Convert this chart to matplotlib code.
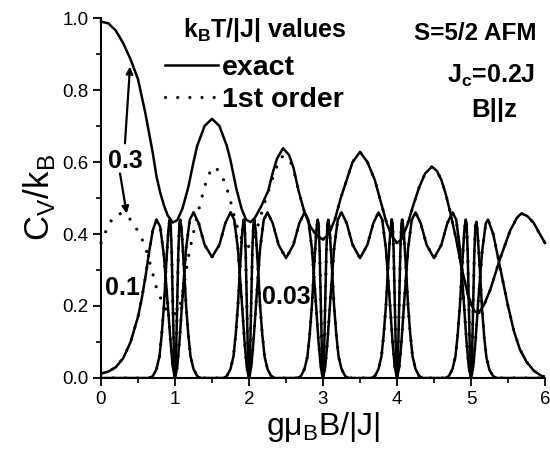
import matplotlib
matplotlib.use('Agg')
import matplotlib.pyplot as plt
from matplotlib.lines import Line2D

plt.rcParams['font.family'] = ['Liberation Sans', 'DejaVu Sans']
plt.rcParams['mathtext.fontset'] = 'custom'
plt.rcParams['mathtext.rm'] = 'Liberation Sans'
plt.rcParams['mathtext.bf'] = 'Liberation Sans:bold'

# kT/|J| = 0.3, exact
x03 = [0.00, 0.10, 0.20, 0.30, 0.40, 0.50, 0.60, 0.70, 0.75, 0.80, 0.85, 0.90, 0.97,
       1.03, 1.10, 1.18, 1.25, 1.30, 1.40, 1.50, 1.60, 1.70, 1.75, 1.83, 1.90, 1.96, 2.02,
       2.08, 2.16, 2.26, 2.32, 2.38, 2.46, 2.54, 2.60, 2.67, 2.75, 2.83, 2.92, 3.00,
       3.08, 3.16, 3.24, 3.32, 3.40, 3.50, 3.60, 3.70, 3.78, 3.86, 3.93, 4.00,
       4.06, 4.14, 4.22, 4.30, 4.38, 4.47, 4.54, 4.60, 4.66, 4.72, 4.80, 4.88, 4.96,
       5.04, 5.10, 5.18, 5.26, 5.39, 5.53, 5.62, 5.68, 5.76, 5.85, 5.93, 6.00]
y03 = [0.990, 0.985, 0.965, 0.930, 0.885, 0.830, 0.735, 0.625, 0.560, 0.515, 0.480, 0.452, 0.432,
       0.438, 0.470, 0.530, 0.600, 0.645, 0.700, 0.720, 0.700, 0.645, 0.605, 0.525, 0.470, 0.440, 0.433,
       0.445, 0.475, 0.520, 0.570, 0.610, 0.638, 0.620, 0.585, 0.520, 0.460, 0.420, 0.395, 0.385,
       0.400, 0.440, 0.500, 0.550, 0.600, 0.628, 0.600, 0.550, 0.490, 0.430, 0.395, 0.375,
       0.385, 0.425, 0.480, 0.530, 0.568, 0.587, 0.575, 0.550, 0.510, 0.460, 0.385, 0.300, 0.230,
       0.187, 0.180, 0.205, 0.245, 0.330, 0.410, 0.445, 0.457, 0.450, 0.430, 0.400, 0.375]

# kT/|J| = 0.3, 1st order
x03p = [0.00, 0.05, 0.10, 0.18, 0.28, 0.36, 0.45, 0.52, 0.59, 0.66, 0.75, 0.81, 0.88, 0.95,
        1.02, 1.08, 1.13, 1.18, 1.24, 1.30, 1.36, 1.44, 1.52, 1.60, 1.68, 1.74, 1.80, 1.87,
        1.94, 2.00, 2.06, 2.13, 2.20, 2.28, 2.36, 2.44, 2.54, 2.60, 2.67, 2.75, 2.83, 2.92, 3.00,
        3.08, 3.16, 3.24, 3.32, 3.40, 3.50, 3.60, 3.70, 3.78, 3.86, 3.93, 4.00,
        4.06, 4.14, 4.22, 4.30, 4.38, 4.47, 4.54, 4.60, 4.66, 4.72, 4.80, 4.88, 4.96,
        5.04, 5.10, 5.18, 5.26, 5.39, 5.53, 5.62, 5.68, 5.76, 5.85, 5.93, 6.00]
y03p = [0.375, 0.400, 0.425, 0.450, 0.458, 0.450, 0.425, 0.400, 0.370, 0.320, 0.250, 0.220, 0.190, 0.175,
        0.180, 0.210, 0.270, 0.335, 0.395, 0.450, 0.500, 0.560, 0.587, 0.575, 0.540, 0.500, 0.450, 0.400,
        0.370, 0.365, 0.380, 0.430, 0.480, 0.530, 0.580, 0.615, 0.610, 0.580, 0.520, 0.460, 0.420, 0.395, 0.385,
        0.400, 0.440, 0.500, 0.550, 0.600, 0.628, 0.600, 0.550, 0.490, 0.430, 0.395, 0.375,
        0.385, 0.425, 0.480, 0.530, 0.568, 0.587, 0.575, 0.550, 0.510, 0.460, 0.385, 0.300, 0.230,
        0.187, 0.180, 0.205, 0.245, 0.330, 0.410, 0.445, 0.457, 0.450, 0.430, 0.400, 0.375]

# kT/|J| = 0.1
x01 = [0.00, 0.10, 0.20, 0.30, 0.40, 0.50, 0.55, 0.60, 0.65, 0.70, 0.75, 0.80, 0.85, 0.90, 0.94, 0.97, 1.00,
       1.03, 1.06, 1.10, 1.15, 1.20, 1.25, 1.32, 1.40, 1.50, 1.60, 1.68, 1.75, 1.80, 1.85, 1.90, 1.94, 1.97, 2.00,
       2.03, 2.06, 2.10, 2.15, 2.20, 2.25, 2.32, 2.40, 2.50, 2.60, 2.68, 2.75, 2.80, 2.85, 2.90, 2.94, 2.97, 3.00,
       3.03, 3.06, 3.10, 3.15, 3.20, 3.25, 3.32, 3.40, 3.50, 3.60, 3.68, 3.75, 3.80, 3.85, 3.90, 3.94, 3.97, 4.00,
       4.03, 4.06, 4.10, 4.15, 4.20, 4.25, 4.32, 4.40, 4.50, 4.60, 4.68, 4.75, 4.80, 4.85, 4.90, 4.94, 4.97, 5.00,
       5.03, 5.06, 5.10, 5.15, 5.20, 5.23, 5.30, 5.36, 5.43, 5.50, 5.58, 5.66, 5.75, 5.85, 5.95, 6.00]
y01 = [0.012, 0.018, 0.030, 0.055, 0.100, 0.170, 0.220, 0.280, 0.350, 0.410, 0.440, 0.420, 0.340, 0.210, 0.100, 0.030, 0.000,
       0.030, 0.100, 0.220, 0.360, 0.440, 0.460, 0.430, 0.370, 0.336, 0.370, 0.430, 0.460, 0.440, 0.360, 0.220, 0.100, 0.030, 0.000,
       0.030, 0.100, 0.220, 0.360, 0.440, 0.460, 0.430, 0.370, 0.333, 0.370, 0.430, 0.460, 0.440, 0.360, 0.220, 0.100, 0.030, 0.000,
       0.030, 0.100, 0.220, 0.360, 0.440, 0.460, 0.430, 0.370, 0.333, 0.370, 0.430, 0.460, 0.440, 0.360, 0.220, 0.100, 0.030, 0.000,
       0.030, 0.100, 0.220, 0.360, 0.440, 0.460, 0.430, 0.370, 0.333, 0.370, 0.430, 0.460, 0.440, 0.360, 0.220, 0.100, 0.030, 0.000,
       0.030, 0.100, 0.220, 0.350, 0.430, 0.440, 0.400, 0.340, 0.270, 0.200, 0.130, 0.080, 0.045, 0.020, 0.006, 0.004]

# kT/|J| = 0.03
x003 = [0.00, 0.65, 0.70, 0.75, 0.79, 0.82, 0.85, 0.88, 0.91, 0.928, 0.94, 0.955, 0.97, 0.985, 1.00,
        1.015, 1.03, 1.045, 1.06, 1.072, 1.09, 1.12, 1.15, 1.18, 1.21, 1.25, 1.30, 1.35,
        1.65, 1.70, 1.75, 1.79, 1.82, 1.85, 1.88, 1.91, 1.928, 1.94, 1.955, 1.97, 1.985, 2.00,
        2.015, 2.03, 2.045, 2.06, 2.072, 2.09, 2.12, 2.15, 2.18, 2.21, 2.25, 2.30, 2.35,
        2.65, 2.70, 2.75, 2.79, 2.82, 2.85, 2.88, 2.91, 2.928, 2.94, 2.955, 2.97, 2.985, 3.00,
        3.015, 3.03, 3.045, 3.06, 3.072, 3.09, 3.12, 3.15, 3.18, 3.21, 3.25, 3.30, 3.35,
        3.65, 3.70, 3.75, 3.79, 3.82, 3.85, 3.88, 3.91, 3.928, 3.94, 3.955, 3.97, 3.985, 4.00,
        4.015, 4.03, 4.045, 4.06, 4.072, 4.09, 4.12, 4.15, 4.18, 4.21, 4.25, 4.30, 4.35,
        4.65, 4.70, 4.75, 4.79, 4.82, 4.85, 4.88, 4.91, 4.928, 4.94, 4.955, 4.97, 4.985, 5.00,
        5.015, 5.03, 5.045, 5.06, 5.075, 5.09, 5.12, 5.15, 5.18, 5.21, 5.25, 5.30, 5.35, 6.00]
y003 = [0.000, 0.000, 0.005, 0.025, 0.060, 0.120, 0.200, 0.310, 0.410, 0.440, 0.430, 0.350, 0.210, 0.070, 0.000,
        0.070, 0.210, 0.350, 0.430, 0.440, 0.410, 0.310, 0.200, 0.120, 0.060, 0.025, 0.005, 0.000,
        0.000, 0.005, 0.025, 0.060, 0.120, 0.200, 0.310, 0.410, 0.440, 0.430, 0.350, 0.210, 0.070, 0.000,
        0.070, 0.210, 0.350, 0.430, 0.440, 0.410, 0.310, 0.200, 0.120, 0.060, 0.025, 0.005, 0.000,
        0.000, 0.005, 0.025, 0.060, 0.120, 0.200, 0.310, 0.410, 0.440, 0.430, 0.350, 0.210, 0.070, 0.000,
        0.070, 0.210, 0.350, 0.430, 0.440, 0.410, 0.310, 0.200, 0.120, 0.060, 0.025, 0.005, 0.000,
        0.000, 0.005, 0.025, 0.060, 0.120, 0.200, 0.310, 0.410, 0.440, 0.430, 0.350, 0.210, 0.070, 0.000,
        0.070, 0.210, 0.350, 0.430, 0.440, 0.410, 0.310, 0.200, 0.120, 0.060, 0.025, 0.005, 0.000,
        0.000, 0.005, 0.025, 0.060, 0.120, 0.200, 0.310, 0.410, 0.440, 0.430, 0.350, 0.210, 0.070, 0.000,
        0.070, 0.210, 0.350, 0.425, 0.434, 0.400, 0.300, 0.190, 0.110, 0.055, 0.022, 0.005, 0.000, 0.000]

xticks = [0, 1, 2, 3, 4, 5, 6]
yticks = [0.0, 0.2, 0.4, 0.6, 0.8, 1.0]

fig = plt.figure(figsize=(5.5, 4.53), dpi=100)
ax = fig.add_axes([101 / 550, 1 - 378 / 453, 444 / 550, 360 / 453])

solid = dict(color='black', lw=1.8, solid_joinstyle='round')
dots = dict(color='black', lw=2.3, linestyle=(0, (0.01, 3.8)), dash_capstyle='round')

ax.plot(x03, y03, **solid, clip_on=False)
ax.plot(x03p, y03p, **dots, clip_on=False)
ax.plot(x01, y01, **solid)
ax.plot(x01, y01, **dots)
ax.plot(x003, y003, **solid)
ax.plot(x003, y003, **dots)

ax.set_xlim(0, 6)
ax.set_ylim(0, 1.0)
ax.set_xticks(xticks)
ax.set_xticklabels([str(t) for t in xticks])
ax.set_xticks([0.5, 1.5, 2.5, 3.5, 4.5, 5.5], minor=True)
ax.set_yticks(yticks)
ax.set_yticklabels(['%.1f' % t for t in yticks])
ax.set_yticks([0.1, 0.3, 0.5, 0.7, 0.9], minor=True)
ax.tick_params(which='major', direction='out', length=6, width=1.3, labelsize=13.5, pad=3)
ax.tick_params(which='minor', direction='out', length=3.5, width=1.2)
for s in ['top', 'right']:
    ax.spines[s].set_visible(False)
for s in ['left', 'bottom']:
    ax.spines[s].set_linewidth(1.5)

ax.set_xlabel('gμ$_\\mathrm{B}$B/|J|', fontsize=23, labelpad=2)
ax.set_ylabel('C$_\\mathrm{V}$/k$_\\mathrm{B}$', fontsize=25, labelpad=4)

arrow = dict(arrowstyle='-|>', color='black', lw=1.6, mutation_scale=10, shrinkA=0, shrinkB=0)
ax.annotate('', xy=(0.392, 0.865), xytext=(0.324, 0.652), arrowprops=arrow)
ax.annotate('', xy=(0.347, 0.457), xytext=(0.257, 0.568), arrowprops=arrow)
ax.text(0.33, 0.583, '0.3', ha='center', va='baseline', fontsize=18, fontweight='bold')
ax.text(0.29, 0.23, '0.1', ha='center', va='baseline', fontsize=18, fontweight='bold')
ax.text(2.176, 0.205, '0.03', ha='left', va='baseline', fontsize=18, fontweight='bold')

# legend: title as text, entries as legend
ax.text(0.185, 0.948, 'k$_\\mathbf{B}$T/|J| values', transform=ax.transAxes,
        ha='left', va='baseline', fontsize=18, fontweight='bold')
handles = [Line2D([], [], **solid), Line2D([], [], **dots)]
ax.legend(handles, ['exact', '1st order'], loc='upper left',
          bbox_to_anchor=(0.144, 0.896), frameon=False, handlelength=1.85,
          handletextpad=0.15, labelspacing=0.19, borderaxespad=0, borderpad=0,
          prop=dict(size=20.5, weight='bold'))

ax.text(0.842, 0.940, 'S=5/2 AFM', transform=ax.transAxes, ha='center', va='baseline',
        fontsize=17.5, fontweight='bold')
ax.text(0.977, 0.819, 'J$_\\mathbf{c}$=0.2J', transform=ax.transAxes, ha='right', va='baseline',
        fontsize=18, fontweight='bold')
ax.text(0.886, 0.726, 'B||z', transform=ax.transAxes, ha='center', va='baseline',
        fontsize=18.5, fontweight='bold')

fig.savefig('out.png', dpi=100)
